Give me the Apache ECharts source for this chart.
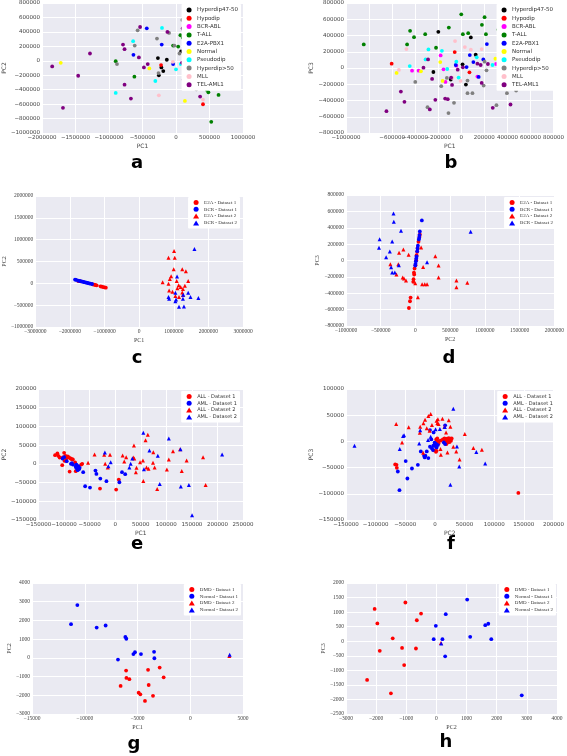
<!DOCTYPE html>
<html><head><meta charset="utf-8">
<script src="https://cdn.jsdelivr.net/npm/echarts@6/dist/echarts.min.js"></script>
<style>html,body{margin:0;padding:0;background:#fff}#c{width:567px;height:756px}</style>
</head><body><div id="c"></div><script>
// ---------- Panel a (PC1 vs PC2) ----------
const aHyperdip4750 = [[-270000,37000],[-137000,14000],[76000,129000],[-218000,-92000],[-190000,-142000],[-256000,-202000]];
const aHypodip = [[-223000,-60000],[403000,-602000]];
const aBCRABL = [[90000,-32000],[170000,-20000]];
const aTALL = [[-900000,-5000],[-621000,-220000],[66000,354000],[100000,321000],[33000,197000],[-43000,211000],[299000,-308000],[464000,-404000],[483000,-436000],[635000,-473000],[526000,-845000]];
const aE2APBX1 = [[-436000,450000],[-213000,225000],[-635000,83000],[-43000,-46000],[128000,193000],[180000,46000]];
const aNormal = [[-1720000,-28000],[-398000,-106000],[133000,-556000],[336000,-344000]];
const aPseudodip = [[-640000,271000],[-209000,455000],[-900000,-445000],[-308000,-280000],[0,-119000],[71000,-46000],[317000,-308000]];
const aHyperdip50 = [[-573000,422000],[-284000,308000],[-616000,211000],[-881000,-46000],[-261000,-170000],[-104000,386000],[95000,565000],[161000,528000],[52000,101000],[-24000,211000],[303000,-395000],[180000,-115000]];
const aMLL = [[-47000,-14000],[-256000,-478000],[403000,-537000]];
const aTELAML1 = [[-1848000,-78000],[-1284000,101000],[-1460000,-207000],[-1687000,-652000],[-791000,225000],[-768000,161000],[-536000,468000],[-554000,46000],[-479000,-92000],[-422000,-46000],[-768000,-331000],[-673000,-523000],[-128000,400000],[100000,450000],[114000,418000],[90000,-28000],[137000,-115000],[166000,-5000],[114000,-262000],[118000,-243000],[360000,-496000]];

// ---------- Panel b (PC1 vs PC3) ----------
const bHyperdip4750 = [[-199000,445000],[83000,376000],[-242000,-49000],[-91000,-143000],[11000,45000],[40000,-204000],[125000,163000]];
const bHypodip = [[-604000,53000],[-57000,196000],[71000,-53000]];
const bBCRABL = [[-427000,-33000],[-370000,-33000],[-179000,155000],[-154000,-16000],[-137000,-171000],[-43000,29000],[140000,-106000],[302000,49000]];
const bTALL = [[-846000,290000],[-470000,290000],[-444000,457000],[-410000,380000],[-313000,416000],[-219000,249000],[-108000,498000],[0,661000],[14000,416000],[60000,429000],[179000,531000],[202000,625000],[214000,416000],[322000,473000]];
const bE2APBX1 = [[-48000,37000],[46000,12000],[74000,159000],[105000,73000],[151000,-110000],[191000,106000],[222000,294000]];
const bNormal = [[-561000,-61000],[-350000,-41000],[-182000,73000],[-162000,-159000],[296000,114000]];
const bPseudodip = [[-447000,24000],[-285000,229000],[-310000,106000],[-168000,212000],[-122000,-12000],[-43000,78000],[-23000,-118000],[134000,131000],[271000,37000]];
const bHyperdip50 = [[-399000,-171000],[-174000,-224000],[-125000,-122000],[-63000,-429000],[-111000,-555000],[-293000,-482000],[54000,-155000],[54000,-310000],[97000,-310000],[194000,-216000],[219000,-29000],[202000,78000],[330000,-229000],[396000,-310000],[476000,-278000],[530000,-224000],[305000,-457000]];
const bMLL = [[-541000,-24000],[-476000,233000],[-54000,331000],[31000,257000],[83000,225000],[177000,233000],[-6000,-159000],[-77000,-122000]];
const bTELAML1 = [[-649000,-531000],[-524000,-290000],[-493000,-416000],[-328000,4000],[-288000,106000],[-253000,-135000],[-225000,-392000],[-273000,-510000],[-140000,-376000],[-117000,-384000],[-80000,-208000],[-88000,-118000],[-31000,-20000],[14000,8000],[140000,53000],[168000,37000],[177000,-184000],[356000,-73000],[273000,-490000],[427000,-449000],[231000,49000]];

// ---------- Panel c (PC1 vs PC2) ----------
const cE2A1 = [[-1758000,54000],[-1692000,46000],[-1341000,-23000],[-1303000,-31000],[-1265000,-38000],[-1227000,-46000],[-1114000,-69000],[-1076000,-77000],[-1038000,-85000],[-1000000,-92000],[-962000,-100000]];
const cBCR1 = [[-1851000,85000],[-1815000,77000],[-1758000,62000],[-1711000,54000],[-1673000,46000],[-1635000,38000],[-1597000,31000],[-1559000,23000],[-1521000,15000],[-1483000,8000],[-1446000,0],[-1408000,-8000],[-1360000,-15000]];
const cE2A2 = [[1009000,738000],[848000,585000],[1028000,585000],[999000,323000],[1246000,323000],[1351000,277000],[924000,162000],[886000,100000],[678000,23000],[848000,-8000],[1085000,54000],[1417000,54000],[1142000,-46000],[1199000,-85000],[1104000,-115000],[1322000,-54000],[1265000,-131000],[867000,-162000],[962000,-192000],[1265000,-269000],[1151000,-315000],[1047000,-292000],[1246000,-208000]];
const cBCR2 = [[1597000,785000],[1095000,154000],[1047000,-215000],[848000,-315000],[867000,-354000],[1047000,-408000],[1066000,-369000],[1265000,-354000],[1275000,-262000],[1417000,-215000],[1483000,-315000],[1711000,-338000],[1151000,-538000],[1294000,-531000]];

// ---------- Panel d (PC2 vs PC3) ----------
const dE2A1 = [[63000,318000],[58000,290000],[44000,229000],[30000,155000],[25000,106000],[16000,65000],[11000,4000],[1000,-57000],[-13000,-98000],[-22000,-147000],[-18000,-171000],[-27000,-229000],[-32000,-261000],[-70000,-453000],[-79000,-498000],[-94000,-580000]];
const dBCR1 = [[92000,490000],[63000,355000],[58000,310000],[54000,278000],[49000,257000],[35000,180000],[30000,147000],[25000,114000],[16000,49000],[11000,24000],[6000,-8000],[1000,-41000],[-3000,-61000]];
const dE2A2 = [[-174000,135000],[-236000,94000],[-98000,69000],[-361000,-45000],[-247000,-45000],[-184000,-208000],[-165000,-220000],[-136000,-245000],[-274000,-171000],[82000,159000],[-3000,-278000],[35000,-449000],[96000,-290000],[134000,-290000],[167000,-290000],[110000,-78000],[286000,53000],[333000,-61000],[333000,-208000],[590000,-245000],[590000,-327000],[747000,-273000]];
const dBCR2 = [[-316000,575000],[-312000,473000],[-208000,363000],[-516000,261000],[-335000,233000],[-525000,155000],[-369000,110000],[-422000,41000],[-240000,-57000],[-350000,-82000],[-335000,-147000],[-297000,-147000],[167000,-20000],[794000,351000]];

// ---------- Panel e (PC1 vs PC2) ----------
const eALL1 = [[-117600,23200],[-113100,27700],[-111200,21400],[-108700,17000],[-103600,-3600],[-102400,17000],[-99200,8000],[-97300,21400],[-95400,15200],[-92900,19600],[-90400,17000],[-87200,14300],[-84700,12500],[-89100,-20500],[-82800,11600],[-78400,3600],[-77100,-19600],[-66400,-1800],[-64500,0],[-29700,-66100],[1900,-68800],[7000,-42000],[-96100,8000],[-99900,29500]];
const eAML1 = [[-103000,14300],[-99900,17900],[-94800,7100],[-86600,0],[-84700,1800],[-82800,-1800],[-77100,-6300],[-76500,-9800],[-74600,-13400],[-73300,-17000],[-70800,-14300],[-72000,-6300],[-69500,-10700],[-75800,-1800],[-62600,-22300],[-58800,-59800],[-49300,-63400],[-38600,-17900],[-36700,-26800],[-29100,-39300],[-17100,-46400],[8200,-49100],[19600,-27700],[13300,-22300]];
const eALL2 = [[-53100,2700],[-40400,25000],[-21500,24100],[-10100,24100],[-19600,0],[-14500,-9800],[14500,22300],[21500,17900],[17700,6300],[35400,17000],[37300,14300],[36700,49100],[41700,-10700],[40400,-22300],[48700,4500],[54300,8900],[55000,-45500],[59400,63400],[63800,77700],[61300,-9800],[65100,-13400],[74600,31300],[73900,2700],[77100,-9800],[82200,-67000],[101100,-15200],[104900,11600],[113100,33900],[130200,-18800],[127000,39300],[139700,8900],[171900,17900],[176900,-56300]];
const eAML2 = [[-20200,30400],[-8800,4500],[-13300,-6300],[33500,14300],[30300,0],[27800,-9800],[56200,-14300],[55000,83000],[67000,35700],[83400,21400],[87200,-53600],[104900,67900],[127700,39300],[128300,-60700],[144100,-56300],[150400,-137500],[209200,25000]];

// ---------- Panel f (PC2 vs PC3) ----------
const fALL1 = [[2200,3800],[3900,5700],[5000,0],[6100,-3800],[9400,1300],[16100,5700],[18300,2600],[20500,5100],[21600,1900],[23300,6400],[24400,3200],[26000,5100],[27100,1300],[28300,5700],[20500,-1300],[13300,3800],[21600,-1900],[19400,-5100],[24900,-1300],[2800,-17900],[-1100,-17200],[1700,-19800],[140700,-98300],[-67000,-44000],[-64300,-50400],[-64800,-44700],[17200,-3800]];
const fAML1 = [[-59800,-93100],[-62600,-57400],[-49300,-37600],[-46500,-70800],[-38800,-51700],[-28800,-44700],[-23800,-19100],[-18300,-27400],[-16100,-27400],[-17200,-30600],[-11100,-31900],[-8300,-10200],[-5000,-13400],[-3300,-16600],[-2800,-8300],[-600,-2600],[600,-4500],[1100,-8900],[2800,-11500],[-2200,17200],[-8300,21700],[2200,-5100],[-6100,3800],[17200,30600],[15000,-1900],[17200,-5100],[5000,-7000],[-13800,-19100]];
const fALL2 = [[-65400,33200],[-44300,26800],[-55400,-1900],[-25500,16600],[-24900,28100],[-19400,34500],[-16600,41500],[-13800,24900],[-7200,52300],[-11100,48500],[-8900,20400],[-5000,31300],[2800,39600],[3900,34500],[6100,33200],[5000,42100],[12700,43400],[16100,28100],[18800,17200],[23300,40200],[26000,28100],[21100,-21100],[10000,-25500],[9400,-14700],[31000,-10200],[36000,-19100],[41500,-34500],[50400,14000],[64800,-12800],[79200,-16000],[-19900,-21700]];
const fAML2 = [[-135700,-8300],[-59300,-14700],[-53800,10200],[-52100,11500],[-26600,-3800],[-24900,21100],[-11600,2600],[-7200,8900],[1100,23000],[8300,23600],[16600,27400],[31000,62500],[26000,-82900],[37100,-9600],[41000,-47900],[69800,-20400],[84800,-42100]];

// ---------- Panel g (PC1 vs PC2) ----------
const gDMD1 = [[-6080,-680],[-6050,-1070],[-5770,-1140],[-6600,-1500],[-4000,-640],[-2900,-520],[-2520,-1040],[-3940,-1450],[-4890,-1860],[-4730,-1950],[-3530,-2030],[-4290,-2300]];
const gNormal1 = [[-10700,2820],[-11300,1800],[-8870,1620],[-8020,1730],[-6150,1120],[-6060,1020],[-6850,-90],[-5390,200],[-5240,300],[-4670,200],[-3430,320],[-3400,-20]];
const gDMD2 = [[3700,100]];
const gNormal2 = [[3740,160]];

// ---------- Panel h (PC2 vs PC3) ----------
const hDMD1 = [[-2050,1110],[-1960,610],[-1880,-330],[-2300,-1330],[-1510,-1790],[-1450,100],[-1140,-230],[-1070,-820],[-1030,1330],[-680,-250],[-650,720],[-510,950]];
const hNormal1 = [[-90,70],[-20,530],[200,70],[290,-520],[310,930],[1020,1430],[1120,150],[1620,550],[1720,600],[1820,70],[2830,-1860]];
const hDMD2 = [[150,-60]];
const hNormal2 = [[160,-80]];

// ---------- Labels ----------
const leukNames = ['Hyperdip47-50','Hypodip','BCR-ABL','T-ALL','E2A-PBX1','Normal','Pseudodip','Hyperdip>50','MLL','TEL-AML1'];
const leukColors = ['#000000','#ff0000','#ff00ff','#008000','#0000ff','#ffff00','#00ffff','#808080','#ffc0cb','#800080'];
const cdNames = ['E2A - Dataset 1','BCR - Dataset 1','E2A - Dataset 2','BCR - Dataset 2'];
const efNames = ['ALL - Dataset 1','AML - Dataset 1','ALL - Dataset 2','AML - Dataset 2'];
const ghNames = ['DMD - Dataset 1','Normal - Dataset 1','DMD - Dataset 2','Normal - Dataset 2'];
const panelLetters = ['a','b','c','d','e','f','g','h'];

const panels = [
  {L:32,T:2,xr:[-2000000,1000000,500000],yr:[-1000000,800000,200000],xn:'PC1',yn:'PC2',yg:27,font:'DejaVu Sans',
   names:leukNames,colors:leukColors,syms:Array(10).fill('circle'),
   data:[aHyperdip4750,aHypodip,aBCRABL,aTALL,aE2APBX1,aNormal,aPseudodip,aHyperdip50,aMLL,aTELAML1],
   lg:{right:326,top:4},lt:[137,165]},
  {L:346,T:2,xr:[-1000000,800000,200000],yr:[-800000,800000,200000],xn:'PC1',yn:'PC3',yg:20,font:'DejaVu Sans',
   names:leukNames,colors:leukColors,syms:Array(10).fill('circle'),
   data:[bHyperdip4750,bHypodip,bBCRABL,bTALL,bE2APBX1,bNormal,bPseudodip,bHyperdip50,bMLL,bTELAML1],
   lg:{right:11,top:4},lt:[451,165]},
  {L:32,T:196,xr:[-3000000,3000000,1000000],yr:[-1000000,2000000,500000],xn:'PC1',yn:'PC2',yg:19,font:'Liberation Serif',
   names:cdNames,colors:['#ff0000','#0000ff','#ff0000','#0000ff'],syms:['circle','circle','triangle','triangle'],
   data:[cE2A1,cBCR1,cE2A2,cBCR2],lg:{right:327,top:197},lt:[137,360]},
  {L:346,T:195,xr:[-1000000,2000000,500000],yr:[-800000,800000,200000],xn:'PC2',yn:'PC3',yg:22,font:'Liberation Serif',
   names:cdNames,colors:['#ff0000','#0000ff','#ff0000','#0000ff'],syms:['circle','circle','triangle','triangle'],
   data:[dE2A1,dBCR1,dE2A2,dBCR2],lg:{right:11,top:197},lt:[449,360]},
  {L:32,T:389,xr:[-150000,250000,50000],yr:[-150000,200000,50000],xn:'PC1',yn:'PC2',yg:25,font:'DejaVu Sans',
   names:efNames,colors:['#ff0000','#0000ff','#ff0000','#0000ff'],syms:['circle','circle','triangle','triangle'],
   data:[eALL1,eAML1,eALL2,eAML2],lg:{right:327,top:391},lt:[137,546]},
  {L:346,T:389,xr:[-150000,200000,50000],yr:[-150000,100000,50000],xn:'PC2',yn:'PC3',yg:22,font:'DejaVu Sans',
   names:efNames,colors:['#ff0000','#0000ff','#ff0000','#0000ff'],syms:['circle','circle','triangle','triangle'],
   data:[fALL1,fAML1,fALL2,fAML2],lg:{right:11,top:391},lt:[451,546]},
  {L:32,T:583,xr:[-15000,5000,5000],yr:[-3000,4000,1000],xn:'PC1',yn:'PC2',yg:19,font:'Liberation Serif',
   names:ghNames,colors:['#ff0000','#0000ff','#ff0000','#0000ff'],syms:['circle','circle','triangle','triangle'],
   data:[gDMD1,gNormal1,gDMD2,gNormal2],lg:{right:326,top:584},lt:[134,746]},
  {L:346,T:583,xr:[-3000,4000,1000],yr:[-2500,2000,500],xn:'PC2',yn:'PC3',yg:20,font:'Liberation Serif',
   names:ghNames,colors:['#ff0000','#0000ff','#ff0000','#0000ff'],syms:['circle','circle','triangle','triangle'],
   data:[hDMD1,hNormal1,hDMD2,hNormal2],lg:{right:11,top:584},lt:[446,744]}
];

const fmt = v => String(v).replace('-', '\u2212');
const grid = [], xAxis = [], yAxis = [], series = [], legend = [], graphic = [];
panels.forEach((p, i) => {
  grid.push({left:p.L, top:p.T, width:211, height:131, show:true, backgroundColor:'#EAEAF2', borderWidth:0, containLabel:false});
  const common = {
    type:'value', gridIndex:i, axisLine:{show:false}, axisTick:{show:false},
    splitLine:{show:true, lineStyle:{color:'#ffffff', width:1}},
    nameLocation:'middle', nameTextStyle:{fontSize:6, color:'#444', fontFamily:p.font}
  };
  xAxis.push(Object.assign({}, common, {min:p.xr[0], max:p.xr[1], interval:p.xr[2], name:p.xn, nameGap:10,
    axisLabel:{fontSize:5.5, color:'#444', margin:2, fontFamily:p.font, formatter:fmt, showMinLabel:true, showMaxLabel:true}}));
  yAxis.push(Object.assign({}, common, {min:p.yr[0], max:p.yr[1], interval:p.yr[2], name:p.yn, nameGap:p.yg,
    axisLabel:{fontSize:5.5, color:'#444', margin:2, fontFamily:p.font, formatter:fmt, showMinLabel:true, showMaxLabel:true}}));
  p.names.forEach((n, k) => {
    series.push({type:'scatter', name:n, xAxisIndex:i, yAxisIndex:i, data:p.data[k],
      symbol:p.syms[k], symbolSize:p.syms[k]==='triangle'?4:3.8,
      itemStyle:{color:p.colors[k], opacity:1}, silent:true, animation:false, z:2});
  });
  legend.push({orient:'vertical', right:p.lg.right, top:p.lg.top, backgroundColor:'#ffffff', z:20, zlevel:0,
    borderRadius:1, padding:[3,3,3,5], itemWidth:6, itemHeight:5, itemGap:(i<2?2.3:1.8),
    itemTextGap:3, selectedMode:false,
    textStyle:{fontSize:(i<2?5.5:5), lineHeight:5, color:'#333', fontFamily:p.font},
    data:p.names.map((n,k)=>({name:n, icon:p.syms[k], itemStyle:{color:p.colors[k]}}))});
  graphic.push({type:'text', x:p.lt[0], y:p.lt[1]-1.5, style:{text:panelLetters[i], fontSize:18, fontWeight:'bold',
    fontFamily:'DejaVu Sans', fill:'#000', textAlign:'center', textVerticalAlign:'middle'}});
});

const chart = echarts.init(document.getElementById('c'), null, {renderer:'canvas'});
chart.setOption({animation:false, backgroundColor:'#ffffff', grid, xAxis, yAxis, series, legend, graphic});
</script></body></html>
